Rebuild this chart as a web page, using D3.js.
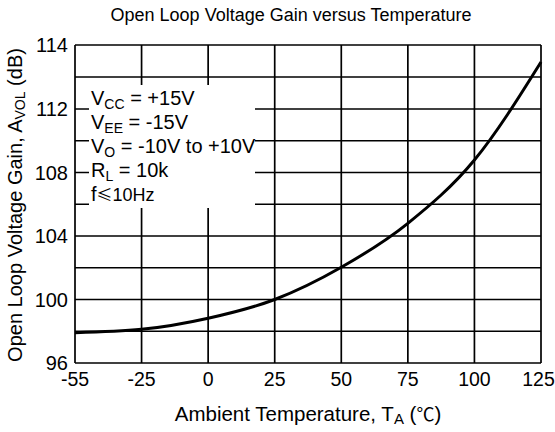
<!DOCTYPE html>
<html>
<head>
<meta charset="utf-8">
<script src="https://cdn.jsdelivr.net/npm/d3@7"></script>
<style>
body { margin: 0; background: #fff; }
text { font-family: Arial, "Liberation Sans", sans-serif; fill: #000; }
</style>
</head>
<body>
<div id="chart"></div>
<script>
// temperature ticks (evenly spaced on the sheet even though -55..-25 is 30 degrees)
var xTicks = [-55, -25, 0, 25, 50, 75, 100, 125];
var yLabels = [96, 100, 104, 108, 112, 114];
var yGrid = [96, 98, 100, 102, 104, 106, 108, 110, 112, 113, 114];

// curve at each temperature gridline
var temps = [-55, -25, 0, 25, 50, 75, 100, 125];
var gain  = [97.91, 98.12, 98.82, 100.0, 102.03, 104.8, 108.79, 113.47];

var width = 555, height = 432;
var plot = {left: 75, right: 541, top: 45, bottom: 363};

var svg = d3.select("#chart").append("svg")
  .attr("width", width)
  .attr("height", height);

var x = d3.scaleLinear()
  .domain(xTicks)
  .range(xTicks.map(function (d, i) { return plot.left + i * (plot.right - plot.left) / (xTicks.length - 1); }));

// the sheet squeezes 96..112 and stretches 112..114
var y = d3.scaleLinear()
  .domain([96, 112, 114])
  .range([plot.bottom, 109, plot.top]);

// grid
var grid = svg.append("g").attr("stroke", "#000").attr("stroke-width", 1.7);

grid.selectAll(".hgrid")
  .data(yGrid)
  .enter().append("line")
  .attr("class", "hgrid")
  .attr("x1", plot.left).attr("x2", plot.right)
  .attr("y1", function (d) { return y(d); })
  .attr("y2", function (d) { return y(d); });

grid.selectAll(".vgrid")
  .data(xTicks)
  .enter().append("line")
  .attr("class", "vgrid")
  .attr("x1", function (d) { return x(d); })
  .attr("x2", function (d) { return x(d); })
  .attr("y1", plot.top).attr("y2", plot.bottom);

// white box behind the conditions text
svg.append("rect")
  .attr("x", 89).attr("y", 85)
  .attr("width", 166).attr("height", 123)
  .attr("fill", "#fff");

// curve
var line = d3.line()
  .x(function (d) { return x(d[0]); })
  .y(function (d) { return y(d[1]); })
  .curve(d3.curveMonotoneX);

svg.append("path")
  .datum(temps.map(function (t, i) { return [t, gain[i]]; }))
  .attr("d", line)
  .attr("fill", "none")
  .attr("stroke", "#000")
  .attr("stroke-width", 3);

// tick labels
svg.selectAll(".xlabel")
  .data(xTicks)
  .enter().append("text")
  .attr("class", "xlabel")
  .attr("x", function (d) { return x(d); })
  .attr("dx", function (d, i) { return i === xTicks.length - 1 ? -2.5 : 0; })
  .attr("y", 386)
  .attr("text-anchor", "middle")
  .style("font-size", "19.5px")
  .text(function (d) { return d; });

svg.selectAll(".ylabel")
  .data(yLabels)
  .enter().append("text")
  .attr("class", "ylabel")
  .attr("x", 68)
  .attr("y", function (d) { return y(d) + 7; })
  .attr("text-anchor", "end")
  .style("font-size", "20px")
  .text(function (d) { return d; });

// title
svg.append("text")
  .attr("x", 291).attr("y", 21)
  .attr("text-anchor", "middle")
  .style("font-size", "18px")
  .text("Open Loop Voltage Gain versus Temperature");

// x axis title
var xt = svg.append("text")
  .attr("x", 308).attr("y", 421)
  .attr("text-anchor", "middle")
  .style("font-size", "20.5px");
xt.append("tspan").text("Ambient Temperature, T");
xt.append("tspan").attr("dy", 3).style("font-size", "15px").text("A");
xt.append("tspan").attr("dy", -3).text(" (");
xt.append("tspan").style("font-family", "'Noto Sans CJK SC'").style("font-size", "18px").text("\u2103");
xt.append("tspan").text(")");

// y axis title
var yt = svg.append("text")
  .attr("transform", "translate(22," + 205 + ") rotate(-90)")
  .attr("text-anchor", "middle")
  .style("font-size", "20px");
yt.append("tspan").text("Open Loop Voltage Gain, A");
yt.append("tspan").attr("dy", 3).style("font-size", "14px").text("VOL");
yt.append("tspan").attr("dy", -3).text(" (dB)");

// conditions
var conds = [
  {main: "V", sub: "CC", rest: " = +15V"},
  {main: "V", sub: "EE", rest: " = -15V"},
  {main: "V", sub: "O", rest: " = -10V to +10V"},
  {main: "R", sub: "L", rest: " = 10k"}
];

conds.forEach(function (c, i) {
  var t = svg.append("text")
    .attr("x", 91).attr("y", 105 + i * 24)
    .style("font-size", "20px");
  t.append("tspan").text(c.main);
  t.append("tspan").attr("dy", 4).style("font-size", "14px").text(c.sub);
  t.append("tspan").attr("dy", -4).text(c.rest);
});

var ft = svg.append("text")
  .attr("x", 91).attr("y", 201)
  .style("font-size", "20px");
ft.append("tspan").text("f");
ft.append("tspan").style("font-family", "'Noto Sans CJK SC'").style("font-size", "16px").text("\u2264");
ft.append("tspan").style("font-size", "18px").text("10Hz");
</script>
</body>
</html>
